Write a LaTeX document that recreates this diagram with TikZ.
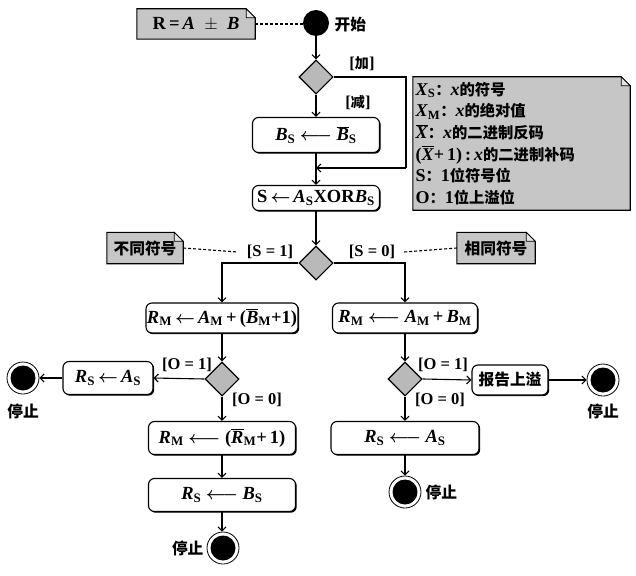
\documentclass[tikz,border=0pt]{standalone}
\usepackage{fontspec}
\setmainfont{Liberation Serif}
\newfontfamily\cjk{Noto Sans CJK SC}[Scale=0.85]
\usetikzlibrary{arrows.meta,shapes.geometric,shadows,backgrounds,calc}
\newcommand\zh[1]{{\cjk #1}}
\newcommand\iv[1]{\textbf{\textit{#1}}}
\newcommand\sv[2]{\iv{#1}\textsubscript{\textbf{#2}}}
\newcommand\ov[1]{\leavevmode\vbox{\hrule height 0.9pt\kern1.2pt\hbox{\iv{#1}}}}
\newcommand\la{\ {\boldmath$\longleftarrow$}\ }
\newcommand\lb{\,{\boldmath$\leftarrow$}\,}
\begin{document}
\begin{tikzpicture}[x=1pt,y=-1pt,
  font=\fontsize{18.5}{20}\selectfont\bfseries,
  act/.style={draw, rounded corners=6pt, fill=white, line width=1.1pt,
    drop shadow={shadow xshift=1.2pt,shadow yshift=-1.2pt,fill=black,opacity=1},
    inner sep=1pt},
  dec/.style={diamond, draw, fill=gray!55, line width=1.1pt, minimum width=34pt,
    minimum height=34pt, inner sep=0pt},
  startnode/.style={circle, fill=black, minimum size=26pt, inner sep=0pt},
  stopnode/.style={circle, draw, line width=0.8pt, fill=white, minimum size=32pt, inner sep=0pt,
    path picture={\fill[black] (path picture bounding box.center) circle (12.5pt);}},
  flow/.style={line width=1.1pt, -{Straight Barb[length=4pt,width=8pt]}},
  plain/.style={line width=1.1pt},
  guard/.style={inner sep=1pt, font=\fontsize{16.5}{18}\selectfont\bfseries},
  notetext/.style={inner sep=2pt},
  notefill/.style={fill=gray!45, draw, line width=1.1pt},
  foldfill/.style={fill=gray!20, draw, line width=0.8pt},
  link/.style={dash pattern=on 3pt off 2pt, line width=1.1pt}
]
\useasboundingbox (0,0) rectangle (636,575);

% notes
\node[notetext, minimum width=118pt, minimum height=30pt] (nA) at (196,24) {R\,=\,\iv{A} \ $\pm$ \ \iv{B}};
\node[notetext, minimum width=76pt, minimum height=31pt] (nL) at (145,248) {\zh{不同符号}};
\node[notetext, minimum width=78pt, minimum height=31pt] (nR) at (496,248) {\zh{相同符号}};
\node[notetext, minimum width=217pt, minimum height=133pt, text width=212pt, align=left,
  font=\fontsize{18}{21.6}\selectfont\bfseries] (leg) at (521.5,143.5)
  {\sv{X}{S}\zh{：}\iv{x}\zh{的符号}\\
   \sv{X}{M}\zh{：}\iv{x}\zh{的绝对值}\\
   \ov{X}\zh{：}\iv{x}\zh{的二进制反码}\\
   (\ov{X}+\,1)\,:\,\iv{x}\zh{的二进制补码}\\
   S\zh{：}1\zh{位符号位}\\
   O\zh{：}1\zh{位上溢位}};
\begin{scope}[on background layer]
\foreach \n in {nA,nL,nR,leg}{
  \draw[notefill] (\n.north west) -- ([xshift=-9pt]\n.north east) -- ([yshift=-9pt]\n.north east)
     -- (\n.south east) -- (\n.south west) -- cycle;
  \draw[foldfill] ([xshift=-9pt]\n.north east) -- ([xshift=-9pt,yshift=-9pt]\n.north east)
     -- ([yshift=-9pt]\n.north east) -- cycle;
}
\end{scope}

% start
\node[startnode] (st) at (316,23) {};
\node[anchor=west] (stl) at (331,25) {\zh{开始}};
\draw[link] (nA.east) -- (nA.east -| st.west);

\node[dec] (d1) at (316,77) {};
\node[guard] (gadd) at (362,64) {[\zh{加}]};
\node[guard] (gsub) at (358,103) {[\zh{减}]};

\node[act, minimum width=127pt, minimum height=35pt] (b1) at (316,135) {\sv{B}{S}\la\ov{B}\textsubscript{\textbf{S}}};
\node[act, minimum width=127pt, minimum height=25pt] (b2) at (316,198) {S\lb\sv{A}{S}XOR\sv{B}{S}};
\coordinate (mg) at (316,168);
\coordinate (c1) at (406,77);
\coordinate (c2) at (406,168);

\draw[flow] (st) -- (d1.north);
\draw[flow] (d1.south) -- (b1.north);
\draw[plain] (d1.east) -- (c1) -- (c2);
\draw[flow] (c2) -- (mg);
\draw[flow] (b1.south) -- (b2.north);

\node[dec] (d2) at (316,263) {};
\draw[flow] (b2.south) -- (d2.north);
\node[guard] (gs1) at (270,252) {[S = 1]};
\node[guard] (gs0) at (372,252) {[S = 0]};
\draw[link] (nL.east) -- ([xshift=-8pt]gs1.west);
\draw[link] ([xshift=8pt]gs0.east) -- (nR.west);

% left branch
\node[act, minimum width=145pt, minimum height=30pt] (L1) at (222,318)
  {\sv{R}{M}\lb\sv{A}{M}\,+\,(\ov{B}\textsubscript{\textbf{M}}+1)};
\node[dec] (dL) at (222,379) {};
\node[act, minimum width=90pt, minimum height=33pt] (Ls) at (108,378) {\sv{R}{S}\lb\sv{A}{S}};
\node[stopnode] (sL) at (23,378) {};
\node (sLl) at (23,411) {\zh{停止}};
\node[guard] (gL1) at (187,365) {[O = 1]};
\node[guard] (gL0) at (257,400) {[O = 0]};
\node[act, minimum width=147pt, minimum height=33pt] (L2) at (222,438)
  {\sv{R}{M}\la(\ov{R}\textsubscript{\textbf{M}}+\,1)};
\node[act, minimum width=147pt, minimum height=33pt] (L3) at (222,495) {\sv{R}{S}\la\sv{B}{S}};
\node[stopnode] (sB) at (223,548) {};
\node[anchor=east] (sBl) at (207,548) {\zh{停止}};

\draw[flow] (d2.west) -| (L1.north);
\draw[flow] (L1.south) -- (dL.north);
\draw[flow] (dL.west) -- (Ls.east);
\draw[flow] (Ls.west) -- (sL.east);
\draw[flow] (dL.south) -- (L2.north);
\draw[flow] (L2.south) -- (L3.north);
\draw[flow] (L3.south) -- (L3.south |- sB.north);

% right branch
\node[act, minimum width=145pt, minimum height=30pt] (R1) at (405,318)
  {\sv{R}{M}\la\sv{A}{M}\,+\,\sv{B}{M}};
\node[dec] (dR) at (405,379) {};
\node[guard] (gR1) at (443,365) {[O = 1]};
\node[guard] (gR0) at (440,400) {[O = 0]};
\node[act, minimum width=76pt, minimum height=30pt] (rep) at (510,380) {\zh{报告上溢}};
\node[stopnode] (sR) at (603,380) {};
\node (sRl) at (603,411) {\zh{停止}};
\node[act, minimum width=148pt, minimum height=33pt] (R2) at (405,438) {\sv{R}{S}\la\sv{A}{S}};
\node[stopnode] (sBR) at (405,492) {};
\node[anchor=west] (sBRl) at (422,492) {\zh{停止}};

\draw[flow] (d2.east) -| (R1.north);
\draw[flow] (R1.south) -- (dR.north);
\draw[flow] (dR.east) -- (rep.west);
\draw[flow] (rep.east) -- (sR.west);
\draw[flow] (dR.south) -- (R2.north);
\draw[flow] (R2.south) -- (sBR.north);
\end{tikzpicture}
\end{document}
